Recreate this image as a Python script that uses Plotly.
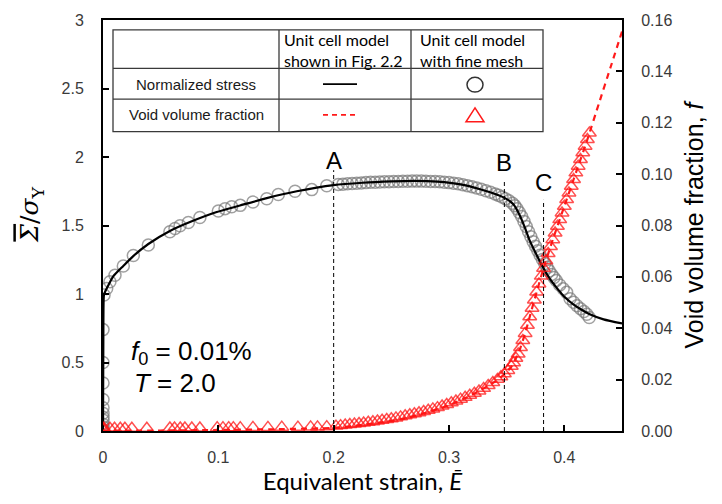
import plotly.graph_objects as go

# ---------------- data ----------------
# Unit cell model (Fig. 2.2): normalized stress vs equivalent strain
strain_model = [0, 0.0003, 0.0008, 0.002, 0.005, 0.009, 0.0176, 0.026, 0.0393, 0.058,
                0.0754, 0.0986, 0.1188, 0.142, 0.168, 0.2, 0.225, 0.25, 0.27, 0.29,
                0.31, 0.327, 0.34, 0.3486, 0.3558, 0.3616, 0.366, 0.370, 0.376, 0.3818,
                0.3875, 0.3934, 0.40, 0.4078, 0.415, 0.422, 0.434, 0.45]
stress_model = [0, 0.70, 0.99, 1.02, 1.07, 1.13, 1.205, 1.275, 1.365, 1.46,
                1.525, 1.598, 1.646, 1.70, 1.75, 1.795, 1.812, 1.822, 1.826, 1.82,
                1.80, 1.765, 1.73, 1.70, 1.655, 1.57, 1.48, 1.39, 1.285, 1.19,
                1.11, 1.045, 0.98, 0.925, 0.885, 0.852, 0.815, 0.785]

# Unit cell model (Fig. 2.2): void volume fraction
strain_model_f = [0, 0.05, 0.1, 0.15, 0.2, 0.22, 0.24, 0.26, 0.28, 0.30, 0.32, 0.34,
                  0.348, 0.354, 0.358, 0.362, 0.366, 0.370, 0.376, 0.382, 0.39, 0.40,
                  0.41, 0.42, 0.43, 0.44, 0.45]
void_model = [0.0001, 0.0002, 0.0004, 0.0007, 0.0012, 0.0021, 0.0033, 0.0047, 0.0071,
              0.0100, 0.0141, 0.0192, 0.0221, 0.0250, 0.0283, 0.0325, 0.0380, 0.0445,
              0.0541, 0.0634, 0.0745, 0.0875, 0.1005, 0.1135, 0.1275, 0.1415, 0.1555]

# Fine-mesh unit cell: normalized stress
strain_fine = [0, 0, 0, 0, 0, 0, 0, 0, 0, 0, 0, 0.0009, 0.0032, 0.006, 0.0104, 0.0176,
               0.0263, 0.0393, 0.058, 0.0624, 0.0668, 0.074, 0.084, 0.100, 0.1058,
               0.1116, 0.119, 0.130, 0.142, 0.152, 0.1665, 0.181, 0.194,
               0.204, 0.208, 0.212, 0.216, 0.220, 0.224, 0.228, 0.232, 0.236, 0.240,
               0.244, 0.248, 0.252, 0.256, 0.260, 0.264, 0.268, 0.272, 0.276, 0.280,
               0.284, 0.288, 0.292, 0.296, 0.300, 0.304, 0.308, 0.312, 0.316, 0.320,
               0.324, 0.328, 0.332, 0.336, 0.340, 0.343, 0.346, 0.349, 0.352, 0.355,
               0.357, 0.359, 0.361, 0.363, 0.365, 0.367, 0.369, 0.371, 0.373, 0.375,
               0.377, 0.379, 0.381, 0.383, 0.385, 0.387, 0.389, 0.391, 0.393, 0.396,
               0.399, 0.402, 0.405, 0.408, 0.411, 0.414, 0.417, 0.4195, 0.4216]
stress_fine = [0.01, 0.03, 0.05, 0.08, 0.10, 0.13, 0.17, 0.23, 0.35, 0.50, 0.74, 0.993,
               1.04, 1.089, 1.137, 1.204, 1.281, 1.358, 1.454, 1.478, 1.498, 1.522,
               1.558, 1.606, 1.623, 1.637, 1.647, 1.671, 1.695, 1.726, 1.75, 1.762, 1.79,
               1.80, 1.802, 1.805, 1.807, 1.809, 1.811, 1.813, 1.815, 1.816, 1.818,
               1.819, 1.820, 1.821, 1.822, 1.823, 1.823, 1.824, 1.824, 1.824, 1.823,
               1.822, 1.821, 1.819, 1.816, 1.813, 1.809, 1.804, 1.798, 1.791, 1.783,
               1.774, 1.764, 1.753, 1.742, 1.730, 1.720, 1.708, 1.695, 1.680, 1.662,
               1.645, 1.622, 1.595, 1.565, 1.530, 1.492, 1.455, 1.418, 1.382, 1.348,
               1.315, 1.283, 1.252, 1.222, 1.195, 1.168, 1.143, 1.120, 1.098, 1.066,
               1.038, 1.012, 0.965, 0.940, 0.915, 0.893, 0.872, 0.852, 0.829]

# Fine-mesh unit cell: void volume fraction
strain_fine_f = [0, 0, 0.001, 0.006, 0.010, 0.015, 0.019, 0.025, 0.038, 0.058, 0.062,
                 0.067, 0.071, 0.077, 0.084, 0.099, 0.104, 0.109, 0.113, 0.119, 0.130,
                 0.143, 0.155, 0.169, 0.180, 0.186, 0.194,
                 0.202, 0.206, 0.210, 0.214, 0.218, 0.222, 0.226, 0.230, 0.234, 0.238,
                 0.242, 0.246, 0.250, 0.254, 0.258, 0.262, 0.266, 0.270, 0.274, 0.278,
                 0.282, 0.286, 0.290, 0.294, 0.298, 0.302, 0.306, 0.310, 0.314, 0.318,
                 0.322, 0.326, 0.330, 0.334, 0.338, 0.342, 0.345, 0.348, 0.351, 0.354,
                 0.356, 0.358, 0.360, 0.362, 0.364, 0.366, 0.368, 0.370, 0.372, 0.374,
                 0.376, 0.378, 0.380, 0.382, 0.384, 0.386, 0.388, 0.390, 0.392, 0.394,
                 0.396, 0.398, 0.400, 0.402, 0.404, 0.406, 0.408, 0.410, 0.412, 0.414,
                 0.416, 0.418, 0.420, 0.4217]
void_fine = [0.0006, 0.0012, 0.0010, 0.0011, 0.0011, 0.0011, 0.0011, 0.0011, 0.0011,
             0.0012, 0.0012, 0.0012, 0.0012, 0.0012, 0.0012, 0.0013, 0.0013, 0.0013,
             0.0013, 0.0013, 0.0014, 0.0014, 0.0015, 0.0015, 0.0016, 0.0016, 0.0017,
             0.0019, 0.0021, 0.0023, 0.0025, 0.0027, 0.0029, 0.0031, 0.0034, 0.0036,
             0.0039, 0.0042, 0.0045, 0.0048, 0.0051, 0.0055, 0.0059, 0.0063, 0.0067,
             0.0071, 0.0076, 0.0081, 0.0086, 0.0091, 0.0097, 0.0103, 0.0110, 0.0117,
             0.0124, 0.0131, 0.0139, 0.0147, 0.0156, 0.0166, 0.0177, 0.0189, 0.0201,
             0.0211, 0.0223, 0.0236, 0.0252, 0.0266, 0.0283, 0.0300, 0.0325, 0.0352,
             0.0380, 0.0412, 0.0445, 0.0478, 0.0510, 0.0541, 0.0572, 0.0603, 0.0634,
             0.0663, 0.0691, 0.0718, 0.0745, 0.0771, 0.0797, 0.0823, 0.0849, 0.0875,
             0.0901, 0.0927, 0.0953, 0.0979, 0.1005, 0.1031, 0.1057, 0.1083, 0.1109,
             0.1135, 0.1160]

x_ticks = [0, 0.1, 0.2, 0.3, 0.4]
x_tick_text = ["0", "0.1", "0.2", "0.3", "0.4"]
y_ticks = [0, 0.5, 1, 1.5, 2, 2.5, 3]
y_tick_text = ["0", "0.5", "1", "1.5", "2", "2.5", "3"]
y2_ticks = [0, 0.02, 0.04, 0.06, 0.08, 0.10, 0.12, 0.14, 0.16]

# States marked on the curve: label, strain, line top (stress), label height (stress)
state_labels = ["A", "B", "C"]
state_strain = [0.2, 0.348, 0.382]
state_line_top = [1.904, 1.832, 1.687]
state_label_y = [1.976, 1.96, 1.817]

# ---------------- layout geometry ----------------
W, H = 722, 504
ML, MR, MT, MB = 103, 100, 15, 73
PW, PH = W - ML - MR, H - MT - MB


def px(x):
    return (x - ML) / PW


def py(y):
    return (H - MB - y) / PH


TICK_FONT = dict(family="Liberation Sans, Arial, sans-serif", size=16, color="#3a3a3a")
SIGMA_BAR = '<span style="text-decoration:overline">\u03a3</span>'
E_BAR = "\u0112"  # E with macron

fig = go.Figure()

fig.add_trace(go.Scatter(
    x=strain_fine, y=stress_fine, mode="markers", showlegend=False,
    marker=dict(symbol="circle-open", size=12, color="rgba(120,120,120,0.7)",
                line=dict(width=1.5, color="rgba(120,120,120,0.7)")),
))
fig.add_trace(go.Scatter(
    x=strain_model, y=stress_model, mode="lines", showlegend=False,
    line=dict(color="black", width=2.2, shape="spline", smoothing=0.6),
))
fig.add_trace(go.Scatter(
    x=strain_model_f, y=void_model, mode="lines", yaxis="y2", showlegend=False,
    line=dict(color="#ff1a1a", width=2.2, dash="6px,5px", shape="spline", smoothing=0.4),
))
fig.add_trace(go.Scatter(
    x=strain_fine_f, y=void_fine, mode="markers", yaxis="y2", showlegend=False,
    marker=dict(symbol="triangle-up-open", size=12, color="rgba(255,20,20,0.75)",
                line=dict(width=1.5, color="rgba(255,20,20,0.75)")),
))

shapes = []
annotations = []

# Vertical dashed markers for states A, B, C
for lab, xs, top, ly in zip(state_labels, state_strain, state_line_top, state_label_y):
    shapes.append(dict(type="line", xref="x", yref="y", x0=xs, x1=xs, y0=0, y1=top,
                       line=dict(color="black", width=1, dash="4px,3px")))
    annotations.append(dict(xref="x", yref="y", x=xs, y=ly, text=lab, showarrow=False,
                            font=dict(family="Liberation Sans, Arial", size=24, color="black")))

# Left axis title (normalized stress)
annotations.append(dict(xref="paper", yref="paper", x=px(31), y=py(212), xanchor="center",
                        yanchor="middle", textangle=-90, showarrow=False,
                        text="<i>" + SIGMA_BAR + "</i>/<i>σ</i><sub>Y</sub>",
                        font=dict(family="DejaVu Serif, serif", size=25, color="black")))

# Parameter annotation
annotations.append(dict(xref="paper", yref="paper", x=px(129), y=py(352), xanchor="left",
                        yanchor="middle", showarrow=False,
                        text="<i>f</i><sub>0</sub> = 0.01%",
                        font=dict(family="Liberation Sans, Arial", size=26, color="black")))
annotations.append(dict(xref="paper", yref="paper", x=px(132), y=py(382), xanchor="left",
                        yanchor="middle", showarrow=False,
                        text="<i>T</i> = 2.0",
                        font=dict(family="Liberation Sans, Arial", size=26, color="black")))

# Legend table
TL, TR, TT, TB = 113, 543, 25, 128
C1, C2 = 279, 411
R1, R2 = 64, 95
grid = "#3a3a3a"
shapes.append(dict(type="rect", xref="paper", yref="paper", x0=px(TL), x1=px(TR),
                   y0=py(TB), y1=py(TT), line=dict(color=grid, width=1.3),
                   fillcolor="white", layer="above"))
for cx in (C1, C2):
    shapes.append(dict(type="line", xref="paper", yref="paper", x0=px(cx), x1=px(cx),
                       y0=py(TB), y1=py(TT), line=dict(color=grid, width=1.3)))
for ry in (R1, R2):
    shapes.append(dict(type="line", xref="paper", yref="paper", x0=px(TL), x1=px(TR),
                       y0=py(ry), y1=py(ry), line=dict(color=grid, width=1.3)))

# Table symbols
shapes.append(dict(type="line", xref="paper", yref="paper", x0=px(323), x1=px(357),
                   y0=py(80), y1=py(80), line=dict(color="black", width=1.8)))
shapes.append(dict(type="line", xref="paper", yref="paper", x0=px(323), x1=px(357),
                   y0=py(111), y1=py(111), line=dict(color="#ff1a1a", width=1.8, dash="5px,4px")))
shapes.append(dict(type="circle", xref="paper", yref="paper", x0=px(467), x1=px(483),
                   y0=py(88), y1=py(73), line=dict(color="#333333", width=1.5)))
shapes.append(dict(type="path", xref="paper", yref="paper",
                   path="M {a},{b} L {c},{d} L {e},{d} Z".format(
                       a=px(475), b=py(104), c=px(466), d=py(118), e=px(484)),
                   line=dict(color="#ff1a1a", width=1.5)))

HEAD_FONT = dict(family="Lato, Carlito, sans-serif", size=16, color="black")
ROW_FONT = dict(family="Liberation Sans, Arial", size=15, color="#1a1a1a")
annotations.append(dict(xref="paper", yref="paper", x=px(282), y=py(45), xanchor="left",
                        yanchor="middle", showarrow=False, align="left",
                        text="Unit cell model<br>shown in Fig. 2.2", font=HEAD_FONT))
annotations.append(dict(xref="paper", yref="paper", x=px(418), y=py(45), xanchor="left",
                        yanchor="middle", showarrow=False, align="left",
                        text="Unit cell model<br>with fine mesh", font=HEAD_FONT))
annotations.append(dict(xref="paper", yref="paper", x=px(196), y=py(80), xanchor="center",
                        yanchor="middle", showarrow=False, text="Normalized stress",
                        font=ROW_FONT))
annotations.append(dict(xref="paper", yref="paper", x=px(196), y=py(111), xanchor="center",
                        yanchor="middle", showarrow=False, text="Void volume fraction",
                        font=ROW_FONT))

fig.update_layout(
    width=W, height=H,
    margin=dict(l=ML, r=MR, t=MT, b=MB, pad=0),
    paper_bgcolor="white", plot_bgcolor="white",
    showlegend=False,
    shapes=shapes, annotations=annotations,
    xaxis=dict(range=[0, 0.45], tickvals=x_ticks, ticktext=x_tick_text,
               ticks="inside", ticklen=6, tickwidth=1.5, tickcolor="black",
               showline=True, linecolor="black", linewidth=2, mirror=True,
               showgrid=False, zeroline=False, tickfont=TICK_FONT,
               ticklabelstandoff=11,
               title=dict(text="Equivalent strain, <i>" + E_BAR + "</i>",
                          font=dict(family="Lato, Carlito, sans-serif", size=24, color="black"),
                          standoff=7)),
    yaxis=dict(range=[0, 3], tickvals=y_ticks, ticktext=y_tick_text,
               ticks="inside", ticklen=6, tickwidth=1.5, tickcolor="black",
               showline=True, linecolor="black", linewidth=2,
               showgrid=False, zeroline=False, tickfont=TICK_FONT,
               ticklabelstandoff=14),
    yaxis2=dict(range=[0, 0.16], tickvals=y2_ticks, tickformat=".2f",
                overlaying="y", side="right", anchor="x",
                ticks="inside", ticklen=6, tickwidth=1.5, tickcolor="black",
                showline=True, linecolor="black", linewidth=2,
                showgrid=False, zeroline=False, tickfont=TICK_FONT,
                ticklabelstandoff=14,
                title=dict(text="Void volume fraction, <i>f</i>",
                           font=dict(family="Liberation Sans, Arial", size=25, color="black"),
                           standoff=14)),
)

fig.write_html("out.html")
